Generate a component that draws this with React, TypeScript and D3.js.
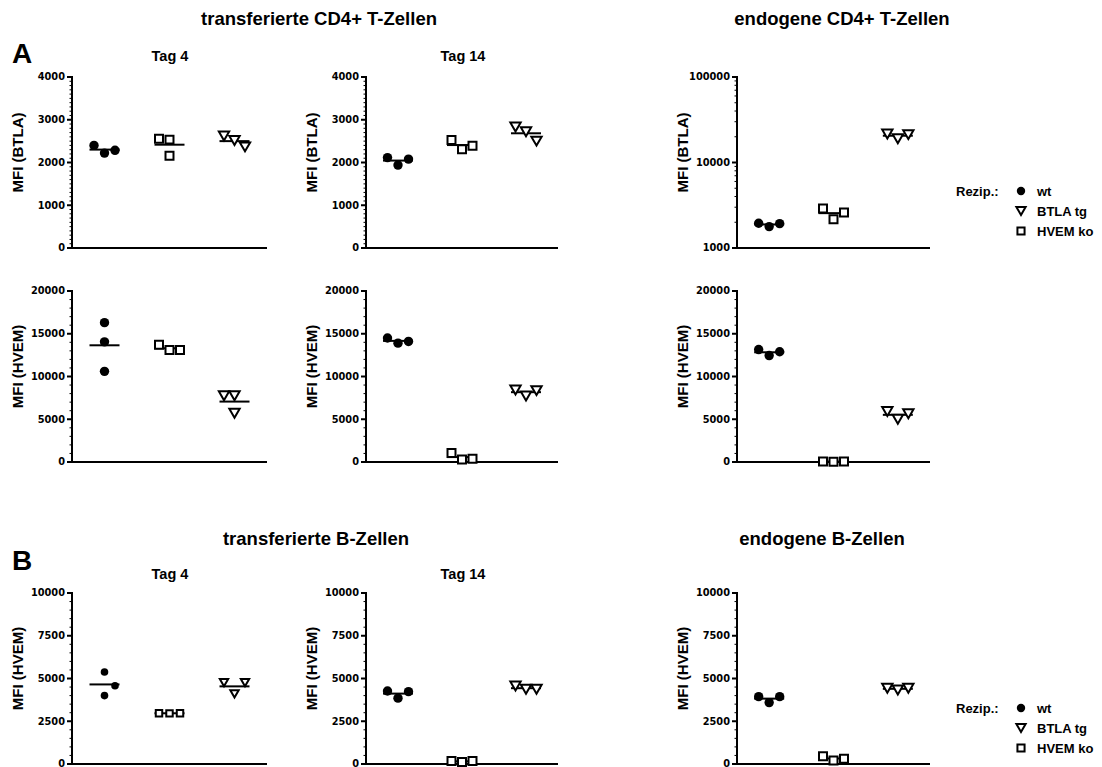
import React from "react";
import * as d3 from "d3";

// ---------- data ----------
const GROUPS = ["wt", "HVEM ko", "BTLA tg"];
const SHAPES = ["circle", "square", "triangle"];
const LEGEND_LABELS = ["wt", "BTLA tg", "HVEM ko"];
const LEGEND_SHAPES = ["circle", "triangle", "square"];

// values per group, ordered as GROUPS (wt, HVEM ko, BTLA tg)
const aTag4BTLA = [[2400, 2220, 2285], [2555, 2535, 2160], [2620, 2515, 2365]];
const aTag14BTLA = [[2115, 1940, 2080], [2525, 2310, 2390], [2830, 2720, 2500]];
const aEndoBTLA = [[1945, 1780, 1930], [2900, 2170, 2600], [21500, 19000, 21200]];
const aTag4HVEM = [[16300, 14050, 10600], [13700, 13100, 13100], [7750, 7750, 5700]];
const aTag14HVEM = [[14500, 13900, 14100], [1060, 280, 390], [8430, 7720, 8350]];
const aEndoHVEM = [[13150, 12450, 12900], [60, 40, 50], [5900, 5000, 5650]];
const bTag4HVEM = [[5380, 4000, 4580], [2970, 2960, 2970], [4760, 4100, 4760]];
const bTag14HVEM = [[4270, 3850, 4230], [180, 120, 170], [4560, 4370, 4370]];
const bEndoHVEM = [[3940, 3590, 3940], [450, 210, 310], [4430, 4330, 4430]];

const ticksBTLA = [0, 1000, 2000, 3000, 4000];
const ticksHVEM = [0, 5000, 10000, 15000, 20000];
const ticksB = [0, 2500, 5000, 7500, 10000];
const ticksLog = [1000, 10000, 100000];

const FONT = "'Liberation Sans', Arial, Helvetica, sans-serif";
const TICKFONT = "'DejaVu Sans', 'Liberation Sans', sans-serif";

type PanelProps = {
  x0: number; x1: number; yTop: number; yBot: number;
  domain: [number, number]; log?: boolean; major: number[]; minorStep?: number;
  label: string; values: number[][]; r?: number;
};

function markerPath(shape: string, cx: number, cy: number, r: number) {
  const p = d3.path();
  if (shape === "square") {
    const s = r * 0.85;
    p.rect(cx - s, cy - s, 2 * s, 2 * s);
  } else if (shape === "triangle") {
    const w = r * 1.1, h = r * 0.95;
    p.moveTo(cx - w, cy - h);
    p.lineTo(cx + w, cy - h);
    p.lineTo(cx, cy + h);
    p.closePath();
  }
  return p.toString();
}

function Marker({ shape, cx, cy, r }: { shape: string; cx: number; cy: number; r: number }) {
  if (shape === "circle") return <circle cx={cx} cy={cy} r={r} fill="#000" />;
  return <path d={markerPath(shape, cx, cy, r)} fill="#fff" stroke="#000" strokeWidth={2} strokeLinejoin="miter" />;
}

function Panel({ x0, x1, yTop, yBot, domain, log, major, minorStep, label, values, r = 4.7 }: PanelProps) {
  const y: any = log
    ? d3.scaleLog().domain(domain).range([yBot, yTop])
    : d3.scaleLinear().domain(domain).range([yBot, yTop]);
  const x = d3.scalePoint<string>().domain(GROUPS).range([x0, x1]).padding(0.5);
  let minor: number[] = [];
  if (log) {
    for (let e = Math.log10(domain[0]); e < Math.log10(domain[1]); e++) {
      for (let k = 2; k <= 9; k++) minor.push(k * Math.pow(10, e));
    }
  } else if (minorStep) {
    minor = d3.range(domain[0], domain[1] + 1e-9, minorStep).filter((v) => !major.includes(v));
  }
  const d = 10.5;
  const thr = 10;
  return (
    <g>
      {minor.map((v, i) => (
        <line key={"m" + i} x1={x0 - 2.5} x2={x0} y1={y(v)} y2={y(v)} stroke="#000" strokeWidth={1} />
      ))}
      {major.map((v, i) => (
        <g key={"t" + i}>
          <line x1={x0 - 5} x2={x0} y1={y(v)} y2={y(v)} stroke="#000" strokeWidth={2} />
          <text x={x0 - 7} y={y(v)} dy="0.35em" textAnchor="end" fontFamily={TICKFONT} fontWeight="bold" fontSize={9.8} fill="#000">
            {String(v)}
          </text>
        </g>
      ))}
      <line x1={x0} x2={x0} y1={yTop - 1} y2={yBot + 1} stroke="#000" strokeWidth={2} />
      <line x1={x0 - 1} x2={x1} y1={yBot} y2={yBot} stroke="#000" strokeWidth={2} />
      <text
        transform={`translate(${x0 - 55},${(yTop + yBot) / 2 - 10}) rotate(-90)`}
        textAnchor="middle" dominantBaseline="central"
        fontFamily={FONT} fontWeight="bold" fontSize={15} fill="#000"
      >
        {label}
      </text>
      {values.map((vals, gi) => {
        const cx = x(GROUPS[gi]) as number;
        const mean = d3.mean(vals) as number;
        const pys = vals.map((v) => y(v));
        return (
          <g key={"g" + gi}>
            <line x1={cx - 15} x2={cx + 15} y1={y(mean)} y2={y(mean)} stroke="#000" strokeWidth={2} />
            {vals.map((v, i) => {
              const collides = pys.some((py, j) => j !== i && Math.abs(py - pys[i]) < thr);
              const off = collides ? (i - 1) * d : 0;
              return <Marker key={i} shape={SHAPES[gi]} cx={cx + off} cy={pys[i]} r={r} />;
            })}
          </g>
        );
      })}
    </g>
  );
}

function Legend({ x, y }: { x: number; y: number }) {
  return (
    <g fontFamily={FONT} fontWeight="bold" fontSize={13} fill="#000">
      <text x={x} y={y} dy="0.35em">Rezip.:</text>
      {LEGEND_LABELS.map((l, i) => (
        <g key={l}>
          <Marker shape={LEGEND_SHAPES[i]} cx={x + 65} cy={y + i * 20} r={4.2} />
          <text x={x + 81} y={y + i * 20} dy="0.35em">{l}</text>
        </g>
      ))}
    </g>
  );
}

export default function App() {
  const cols = [{ x0: 72, x1: 267 }, { x0: 366, x1: 558 }, { x0: 737, x1: 930 }];
  const rows = [{ t: 77, b: 248 }, { t: 291, b: 462 }, { t: 593, b: 764 }];
  const title = { fontFamily: FONT, fontWeight: "bold" as const, fill: "#000" };
  return (
    <svg width={1102} height={767} style={{ position: "absolute", left: 0, top: 0, background: "#fff" }}>
      <rect width={1102} height={767} fill="#fff" />
      <text x={319} y={25} textAnchor="middle" fontSize={18.5} {...title}>transferierte CD4+ T-Zellen</text>
      <text x={842} y={25} textAnchor="middle" fontSize={18.5} {...title}>endogene CD4+ T-Zellen</text>
      <text x={12} y={63} fontSize={28} {...title}>A</text>
      <text x={170} y={61} textAnchor="middle" fontSize={14.5} {...title}>Tag 4</text>
      <text x={463} y={61} textAnchor="middle" fontSize={14.5} {...title}>Tag 14</text>

      <text x={316} y={545} textAnchor="middle" fontSize={18.5} {...title}>transferierte B-Zellen</text>
      <text x={822} y={545} textAnchor="middle" fontSize={18.5} {...title}>endogene B-Zellen</text>
      <text x={12} y={570} fontSize={28} {...title}>B</text>
      <text x={170} y={579} textAnchor="middle" fontSize={14.5} {...title}>Tag 4</text>
      <text x={463} y={579} textAnchor="middle" fontSize={14.5} {...title}>Tag 14</text>

      <Panel {...cols[0]} yTop={rows[0].t} yBot={rows[0].b} domain={[0, 4000]} major={ticksBTLA} minorStep={100} label="MFI (BTLA)" values={aTag4BTLA} />
      <Panel {...cols[1]} yTop={rows[0].t} yBot={rows[0].b} domain={[0, 4000]} major={ticksBTLA} minorStep={100} label="MFI (BTLA)" values={aTag14BTLA} />
      <Panel {...cols[2]} yTop={rows[0].t} yBot={rows[0].b} domain={[1000, 100000]} log major={ticksLog} label="MFI (BTLA)" values={aEndoBTLA} />

      <Panel {...cols[0]} yTop={rows[1].t} yBot={rows[1].b} domain={[0, 20000]} major={ticksHVEM} minorStep={1000} label="MFI (HVEM)" values={aTag4HVEM} />
      <Panel {...cols[1]} yTop={rows[1].t} yBot={rows[1].b} domain={[0, 20000]} major={ticksHVEM} minorStep={1000} label="MFI (HVEM)" values={aTag14HVEM} />
      <Panel {...cols[2]} yTop={rows[1].t} yBot={rows[1].b} domain={[0, 20000]} major={ticksHVEM} minorStep={1000} label="MFI (HVEM)" values={aEndoHVEM} />

      <Panel {...cols[0]} yTop={rows[2].t} yBot={rows[2].b} domain={[0, 10000]} major={ticksB} minorStep={500} label="MFI (HVEM)" values={bTag4HVEM} r={3.8} />
      <Panel {...cols[1]} yTop={rows[2].t} yBot={rows[2].b} domain={[0, 10000]} major={ticksB} minorStep={500} label="MFI (HVEM)" values={bTag14HVEM} />
      <Panel {...cols[2]} yTop={rows[2].t} yBot={rows[2].b} domain={[0, 10000]} major={ticksB} minorStep={500} label="MFI (HVEM)" values={bEndoHVEM} />

      <Legend x={956} y={191} />
      <Legend x={956} y={708} />
    </svg>
  );
}
